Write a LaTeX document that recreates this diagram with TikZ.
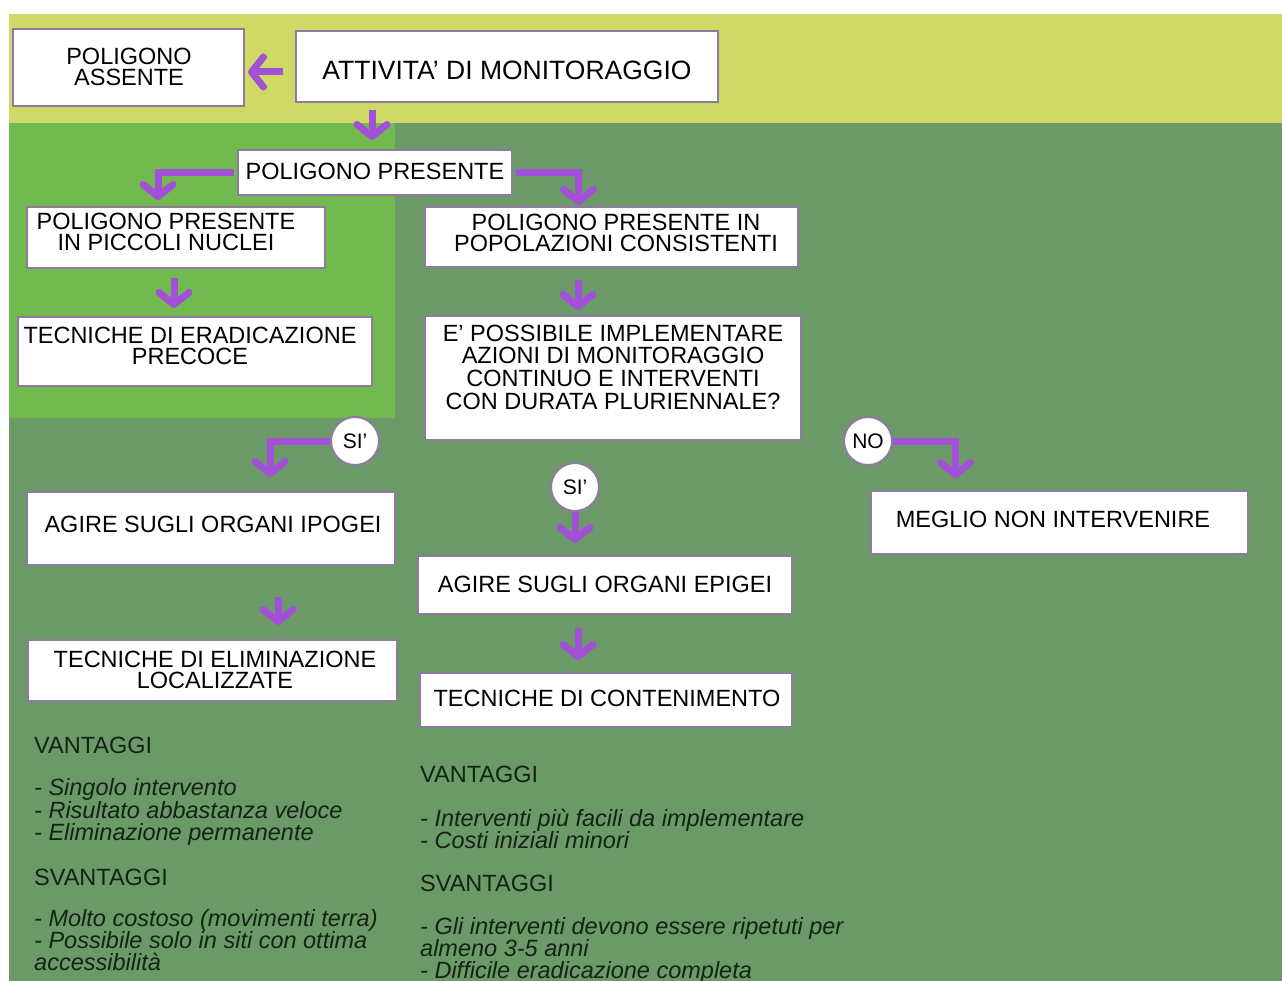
\documentclass[tikz,border=0pt]{standalone}
\usepackage{fontspec}
\setmainfont{Liberation Sans}
\usetikzlibrary{arrows.meta}
\definecolor{yel}{RGB}{207,218,102}
\definecolor{lgreen}{RGB}{114,185,80}
\definecolor{dgreen}{RGB}{107,153,103}
\definecolor{arrowc}{RGB}{163,80,216}
\definecolor{boxline}{RGB}{142,122,158}
\definecolor{notec}{RGB}{18,36,18}
\tikzset{
  panel/.style={draw=boxline, line width=2pt, fill=white, anchor=north west, inner sep=0pt, outer sep=0pt},
  txt/.style={font=\fontsize{23.5}{21.5}\selectfont, align=center, inner sep=0pt, text=black},
  yn/.style={circle, draw=boxline, line width=2pt, fill=white, minimum size=48pt, inner sep=0pt, font=\fontsize{21}{21}\selectfont},
  flow/.style={draw=arrowc, line width=7pt, -{Straight Barb[length=12pt,width=30pt,round]}},
  notes/.style={font=\fontsize{23.5}{21.5}\selectfont, align=left, anchor=north west, inner sep=0pt, text=notec}
}
\begin{document}
\begin{tikzpicture}[x=1pt,y=-1pt]
\useasboundingbox (0,0) rectangle (1282,981);
% backgrounds
\fill[white] (0,0) rectangle (1282,981);
\fill[yel] (9,14) rectangle (1282,123);
\fill[dgreen] (9,123) rectangle (1282,981);
\fill[lgreen] (9,123) rectangle (395,418);

% boxes
\node[panel, minimum width=231pt, minimum height=77pt] (assente) at (13,29) {};
\node[panel, minimum width=422pt, minimum height=71pt] (att) at (296,31) {};
\node[panel, minimum width=274pt, minimum height=45pt] (pres) at (238,150) {};
\node[panel, minimum width=298pt, minimum height=61pt] (nuc) at (27,207) {};
\node[panel, minimum width=354pt, minimum height=69pt] (erad) at (18,317) {};
\node[panel, minimum width=373pt, minimum height=60pt] (pop) at (425,207) {};
\node[panel, minimum width=376pt, minimum height=124pt] (quest) at (425,316) {};
\node[panel, minimum width=368pt, minimum height=73pt] (ipo) at (27,492) {};
\node[panel, minimum width=369pt, minimum height=61pt] (elim) at (28,640) {};
\node[panel, minimum width=374pt, minimum height=58pt] (epi) at (418,556) {};
\node[panel, minimum width=372pt, minimum height=54pt] (cont) at (420,673) {};
\node[panel, minimum width=377pt, minimum height=63pt] (meglio) at (871,491) {};

% texts
\node[txt] (assente-t) at (129,67) {POLIGONO\\ASSENTE};
\node[txt, font=\fontsize{26.5}{26}\selectfont] (att-t) at (507,70) {ATTIVITA’ DI MONITORAGGIO};
\node[txt] (pres-t) at (375,171) {POLIGONO PRESENTE};
\node[txt] (nuc-t) at (166,232) {POLIGONO PRESENTE\\IN PICCOLI NUCLEI};
\node[txt] (erad-t) at (190,346) {TECNICHE DI ERADICAZIONE\\PRECOCE};
\node[txt] (pop-t) at (616,233) {POLIGONO PRESENTE IN\\POPOLAZIONI CONSISTENTI};
\node[txt, font=\fontsize{23.5}{22.7}\selectfont] (quest-t) at (613,367) {E’ POSSIBILE IMPLEMENTARE\\AZIONI DI MONITORAGGIO\\CONTINUO E INTERVENTI\\CON DURATA PLURIENNALE?};
\node[txt] (ipo-t) at (213,524) {AGIRE SUGLI ORGANI IPOGEI};
\node[txt] (elim-t) at (215,670) {TECNICHE DI ELIMINAZIONE\\LOCALIZZATE};
\node[txt] (epi-t) at (605,584) {AGIRE SUGLI ORGANI EPIGEI};
\node[txt] (cont-t) at (607,698) {TECNICHE DI CONTENIMENTO};
\node[txt] (meglio-t) at (1053,519) {MEGLIO NON INTERVENIRE};

% yes/no circles
\node[yn] (siL) at (355,441) {SI’};
\node[yn] (siM) at (575,487) {SI’};
\node[yn] (no) at (868,441) {NO};

% connectors
\draw[flow, shorten <=13pt, shorten >=4pt] ([yshift=-5.5pt]att.west) -- ([yshift=-5.5pt]att.west -| assente.east);
\draw[flow, shorten <=8pt, shorten >=10pt] ([xshift=-3pt]pres.north |- att.south) -- ([xshift=-3pt]pres.north);
\draw[flow, shorten <=4pt, shorten >=7pt] (pres.west) -| ([xshift=-18pt]nuc.north);
\draw[flow, shorten <=4pt, shorten >=2pt] (pres.east) -| ([xshift=-33pt]pop.north);
\draw[flow, shorten <=10pt, shorten >=9pt] ([xshift=-2pt]nuc.south) -- ([xshift=-2pt]nuc.south |- erad.north);
\draw[flow, shorten <=13pt, shorten >=6pt] ([xshift=-33.5pt]pop.south) -- ([xshift=-33.5pt]pop.south |- quest.north);
\draw[flow, shorten >=15pt] (siL.west) -| ([xshift=59pt]ipo.north);
\draw[flow, shorten >=13pt] (siM.south) -- (siM.south |- epi.north);
\draw[flow, shorten >=13pt] (no.east) -| ([xshift=-104pt]meglio.north);
\draw[flow, shorten <=32pt, shorten >=15pt] ([xshift=67pt]ipo.south) -- ([xshift=67pt]ipo.south |- elim.north);
\draw[flow, shorten <=14pt, shorten >=13pt] ([xshift=-27pt]epi.south) -- ([xshift=-27pt]epi.south |- cont.north);

% notes
\node[notes] (notesL) at (34,737) {VANTAGGI\\[20.5pt]
\textit{- Singolo intervento}\\
\textit{- Risultato abbastanza veloce}\\
\textit{- Eliminazione permanente}\\[23.5pt]
SVANTAGGI\\[19.5pt]
\textit{- Molto costoso (movimenti terra)}\\
\textit{- Possibile solo in siti con ottima}\\
\textit{accessibilità}};
\node[notes, font=\fontsize{23.5}{22}\selectfont] (notesM) at (420,766) {VANTAGGI\\[22pt]
\textit{- Interventi più facili da implementare}\\
\textit{- Costi iniziali minori}\\[21pt]
SVANTAGGI\\[21pt]
\textit{- Gli interventi devono essere ripetuti per}\\
\textit{almeno 3-5 anni}\\
\textit{- Difficile eradicazione completa}};
\end{tikzpicture}
\end{document}
